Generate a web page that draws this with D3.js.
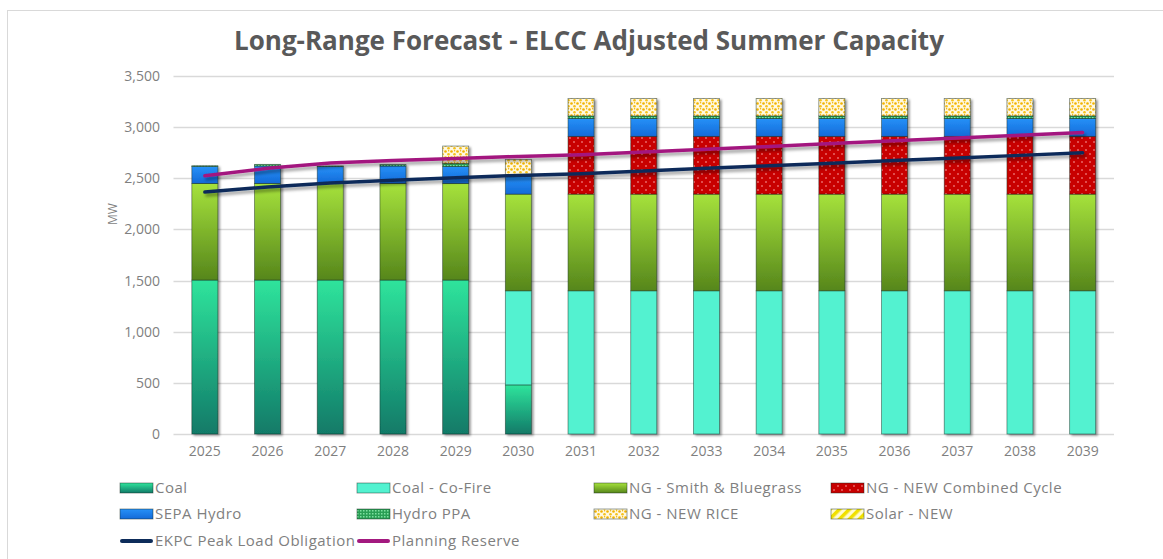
<!DOCTYPE html>
<html lang="en">
<head>
<meta charset="utf-8">
<title>Long-Range Forecast - ELCC Adjusted Summer Capacity</title>
<script src="https://d3js.org/d3.v7.min.js"></script>
<style>
  body { margin: 0; background: #fff; }
  text { font-family: "Open Sans", "DejaVu Sans", sans-serif; }
</style>
</head>
<body>
<div id="chart"></div>
<script>

// ---------------------------//
//           DATA             //
// ---------------------------//
var years = ["2025","2026","2027","2028","2029","2030","2031","2032","2033","2034","2035","2036","2037","2038","2039"];

var coal       = [1505,1505,1505,1505,1505, 480,   0,   0,   0,   0,   0,   0,   0,   0,   0];
var coalCoFire = [   0,   0,   0,   0,   0, 920,1400,1400,1400,1400,1400,1400,1400,1400,1400];
var ngSmith    = [ 945, 945, 945, 945, 945, 945, 945, 945, 945, 945, 945, 945, 945, 945, 945];
var ngNewCC    = [   0,   0,   0,   0,   0,   0, 565, 565, 565, 565, 565, 565, 565, 565, 565];
var sepaHydro  = [ 165, 170, 165, 170, 165, 175, 175, 175, 175, 175, 175, 175, 175, 175, 175];
var hydroPPA   = [   8,  16,   6,  14,  30,   5,  25,  25,  25,  25,  25,  25,  25,  25,  25];
var ngNewRice  = [   0,   0,   0,   0, 170, 160, 170, 170, 170, 170, 170, 170, 170, 170, 170];
var solarNew   = [   0,   0,   0,   0,   0,   0,   0,   0,   0,   0,   0,   0,   0,   0,   0];

var peakLoad        = [2365,2415,2455,2480,2505,2528,2545,2572,2597,2622,2648,2673,2699,2724,2750];
var planningReserve = [2525,2597,2650,2675,2694,2714,2730,2757,2784,2811,2839,2866,2893,2920,2948];

var yTicks = [0,500,1000,1500,2000,2500,3000,3500];

var seriesKeys  = ["coal","coalCoFire","ngSmith","ngNewCC","sepaHydro","hydroPPA","ngNewRice","solarNew"];
var seriesNames = ["Coal","Coal - Co-Fire","NG - Smith & Bluegrass","NG - NEW Combined Cycle",
                   "SEPA Hydro","Hydro PPA","NG - NEW RICE","Solar - NEW"];
var seriesData  = [coal, coalCoFire, ngSmith, ngNewCC, sepaHydro, hydroPPA, ngNewRice, solarNew];
var seriesFill  = ["url(#gCoal)","#52f2d0","url(#gNg)","url(#pCC)","url(#gSepa)","url(#pPPA)","url(#pRice)","url(#pSolar)"];

// ---------------------------//
//           SETUP            //
// ---------------------------//
var W = 1163, H = 559;
var svg = d3.select("#chart").append("svg")
    .attr("width", W)
    .attr("height", H);

var defs = svg.append("defs");

function vGrad(id, c1, c2) {
  var g = defs.append("linearGradient").attr("id", id)
      .attr("x1", 0).attr("y1", 0).attr("x2", 0).attr("y2", 1);
  g.append("stop").attr("offset", "0%").attr("stop-color", c1);
  g.append("stop").attr("offset", "100%").attr("stop-color", c2);
}
vGrad("gCoal", "#2fe49c", "#117a68");
vGrad("gNg", "#a6e23c", "#56861b");
vGrad("gSepa", "#2691f8", "#136ad8");

// NG - NEW Combined Cycle : red with white dots
var pCC = defs.append("pattern").attr("id", "pCC")
    .attr("patternUnits", "userSpaceOnUse").attr("width", 8).attr("height", 8);
pCC.append("rect").attr("width", 8).attr("height", 8).attr("fill", "#c80000");
pCC.append("circle").attr("cx", 2).attr("cy", 2).attr("r", 0.8).attr("fill", "#ffb0b0");
pCC.append("circle").attr("cx", 6).attr("cy", 6).attr("r", 0.8).attr("fill", "#ffb0b0");

// Hydro PPA : small green checks
var pPPA = defs.append("pattern").attr("id", "pPPA")
    .attr("patternUnits", "userSpaceOnUse").attr("width", 3).attr("height", 3);
pPPA.append("rect").attr("width", 3).attr("height", 3).attr("fill", "#2a9f55");
pPPA.append("rect").attr("width", 1.5).attr("height", 1.5).attr("fill", "#7ee0a0");

// NG - NEW RICE : white with orange/yellow blobs
var pRice = defs.append("pattern").attr("id", "pRice")
    .attr("patternUnits", "userSpaceOnUse").attr("width", 6).attr("height", 6);
pRice.append("rect").attr("width", 6).attr("height", 6).attr("fill", "#fff8e0");
pRice.append("circle").attr("cx", 1.5).attr("cy", 1.5).attr("r", 1.3).attr("fill", "#f2b300");
pRice.append("circle").attr("cx", 4.5).attr("cy", 4.2).attr("r", 1.3).attr("fill", "#f6c21c");
pRice.append("circle").attr("cx", 4.6).attr("cy", 0.8).attr("r", 0.7).attr("fill", "#f2b300");

// Solar - NEW : yellow diagonal hatch
var pSolar = defs.append("pattern").attr("id", "pSolar")
    .attr("patternUnits", "userSpaceOnUse").attr("width", 7).attr("height", 7)
    .attr("patternTransform", "rotate(45)");
pSolar.append("rect").attr("width", 7).attr("height", 7).attr("fill", "#fffbd0");
pSolar.append("rect").attr("width", 3.5).attr("height", 7).attr("fill", "#f0e000");

var fBar = defs.append("filter").attr("id", "shadow")
    .attr("x", "-20%").attr("y", "-20%").attr("width", "160%").attr("height", "140%");
fBar.append("feDropShadow").attr("dx", 2).attr("dy", 1.5).attr("stdDeviation", 1.3)
    .attr("flood-color", "#000").attr("flood-opacity", 0.4);

var fLine = defs.append("filter").attr("id", "lshadow")
    .attr("x", "-5%").attr("y", "-50%").attr("width", "110%").attr("height", "200%");
fLine.append("feDropShadow").attr("dx", 2).attr("dy", 3).attr("stdDeviation", 1.6)
    .attr("flood-color", "#000").attr("flood-opacity", 0.35);

// outer frame
svg.append("rect")
    .attr("x", 7.5).attr("y", 10.5)
    .attr("width", W + 20).attr("height", H + 20)
    .attr("fill", "none").attr("stroke", "#d9d9d9");

// ---------------------------//
//       AXIS  AND SCALE      //
// ---------------------------//
var x = d3.scaleBand()
    .domain(years)
    .range([173.5, 1114])
    .paddingInner(0.585)
    .paddingOuter(0.2925);

var y = d3.scaleLinear()
    .domain([0, 3500])
    .range([434, 76]);

// gridlines
svg.append("g")
  .selectAll("line")
  .data(yTicks)
  .enter()
  .append("line")
    .attr("x1", 173.5).attr("x2", 1114)
    .attr("y1", function(d) { return Math.round(y(d)) + 0.5; })
    .attr("y2", function(d) { return Math.round(y(d)) + 0.5; })
    .attr("stroke", "#d9d9d9")
    .attr("stroke-width", 1.3);

// y axis labels
var yAxis = svg.append("g")
    .attr("transform", "translate(173,0)")
    .call(d3.axisLeft(y).tickValues(yTicks).tickSize(0).tickPadding(13).tickFormat(d3.format(",")));
yAxis.select(".domain").remove();
yAxis.selectAll("text")
    .style("font-size", "14px")
    .style("fill", "#7f7f7f")
    .style("font-family", "'Open Sans', sans-serif");

// x axis labels
var xAxis = svg.append("g")
    .attr("transform", "translate(0,434)")
    .call(d3.axisBottom(x).tickSize(0).tickPadding(12));
xAxis.select(".domain").remove();
xAxis.selectAll("text")
    .style("font-size", "14px")
    .style("fill", "#7f7f7f")
    .style("font-family", "'Open Sans', sans-serif");

// MW label
svg.append("text")
    .attr("transform", "translate(117,214) rotate(-90)")
    .attr("text-anchor", "middle")
    .style("font-size", "12px")
    .style("fill", "#7f7f7f")
    .text("MW");

// ---------------------------//
//         BARS               //
// ---------------------------//
var table = years.map(function(yr, i) {
  var row = { year: yr };
  seriesKeys.forEach(function(k, j) { row[k] = seriesData[j][i]; });
  return row;
});

var stacked = d3.stack().keys(seriesKeys)(table);

var bars = svg.append("g").attr("filter", "url(#shadow)");
bars.selectAll("g")
  .data(stacked)
  .enter()
  .append("g")
    .attr("fill", function(d, i) { return seriesFill[i]; })
  .selectAll("rect")
  .data(function(d) { return d.filter(function(p) { return p[1] - p[0] > 0; }); })
  .enter()
  .append("rect")
    .attr("x", function(d) { return x(d.data.year); })
    .attr("width", x.bandwidth())
    .attr("y", function(d) { return y(d[1]); })
    .attr("height", function(d) { return y(d[0]) - y(d[1]); })
    .attr("stroke", "rgba(20,40,30,0.55)")
    .attr("stroke-width", 0.8);

// ---------------------------//
//         LINES              //
// ---------------------------//
var line = d3.line()
    .x(function(d, i) { return x(years[i]) + x.bandwidth() / 2; })
    .y(function(d) { return y(d); });

svg.append("path")
    .datum(peakLoad)
    .attr("d", line)
    .attr("fill", "none")
    .attr("stroke", "#0d2c5a")
    .attr("stroke-width", 3.5)
    .attr("stroke-linecap", "round")
    .attr("filter", "url(#lshadow)");

svg.append("path")
    .datum(planningReserve)
    .attr("d", line)
    .attr("fill", "none")
    .attr("stroke", "#a3197f")
    .attr("stroke-width", 3.5)
    .attr("stroke-linecap", "round")
    .attr("filter", "url(#lshadow)");

// ---------------------------//
//         LEGEND             //
// ---------------------------//
var legCols = [120, 357, 594, 831];
var legRows = [488, 514, 541];

var leg = svg.append("g");
seriesNames.forEach(function(name, i) {
  var lx = legCols[i % 4], ly = legRows[Math.floor(i / 4)];
  leg.append("rect")
      .attr("x", lx).attr("y", ly - 5)
      .attr("width", 33).attr("height", 10)
      .attr("fill", seriesFill[i])
      .attr("stroke", "rgba(20,40,30,0.55)")
      .attr("stroke-width", 0.8);
  leg.append("text")
      .attr("x", lx + 35).attr("y", ly + 5)
      .style("font-size", "15px")
      .style("letter-spacing", "0.5px")
      .style("fill", "#7f7f7f")
      .text(name);
});

var lineLegend = [
  { name: "EKPC Peak Load Obligation", color: "#0d2c5a" },
  { name: "Planning Reserve", color: "#a3197f" }
];
lineLegend.forEach(function(d, i) {
  var lx = legCols[i], ly = legRows[2];
  leg.append("line")
      .attr("x1", lx + 2).attr("x2", lx + 31)
      .attr("y1", ly).attr("y2", ly)
      .attr("stroke", d.color)
      .attr("stroke-width", 4)
      .attr("stroke-linecap", "round");
  leg.append("text")
      .attr("x", lx + 35).attr("y", ly + 5)
      .style("font-size", "15px")
      .style("letter-spacing", "0.5px")
      .style("fill", "#7f7f7f")
      .text(d.name);
});

// ---------------------------//
//         TITLE              //
// ---------------------------//
svg.append("text")
    .attr("x", 589)
    .attr("y", 50)
    .attr("text-anchor", "middle")
    .style("font-size", "26px")
    .style("font-weight", "bold")
    .style("fill", "#595959")
    .text("Long-Range Forecast - ELCC Adjusted Summer Capacity");

</script>
</body>
</html>
